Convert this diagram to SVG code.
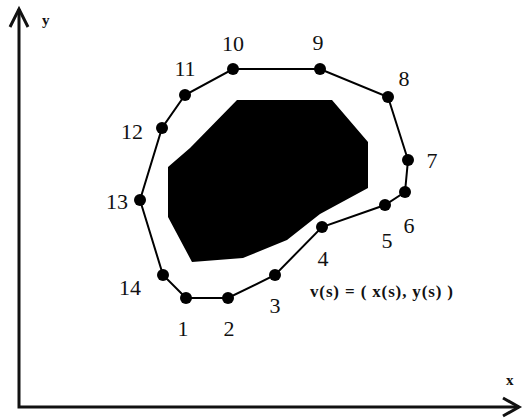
<svg xmlns="http://www.w3.org/2000/svg" width="523" height="418" viewBox="0 0 523 418">
<style>
.lbl{font-family:"Liberation Serif","Times New Roman",serif;font-size:22px;fill:#111;text-anchor:middle}
.ax{font-family:"Liberation Serif","Times New Roman",serif;font-size:15px;fill:#111;font-weight:bold}
.f{font-family:"Liberation Serif","Times New Roman",serif;font-size:17px;fill:#111;font-weight:bold}
.dot{fill:#000}
</style>
<rect width="523" height="418" fill="#fff"/>
<g id="axes" fill="none" stroke="#111" stroke-width="3">
<path d="M19,9 V407 H519"/>
<path d="M10,27 L19,9 L28,27"/>
<path d="M503,398 L519,407 L503,416"/>
</g>
<text class="ax" x="42" y="25">y</text>
<text class="ax" x="506" y="385">x</text>
<g id="obstacle">
<path d="M237,100 L332,100 L368,142 L368,188 L320,214 L287,240 L243,258 L192,262 L168,217 L168,167 L190,148 Z" fill="#000"/>
</g>
<g id="connectors" fill="none" stroke="#000" stroke-width="2">
<path d="M186,298 L228,298 L275,275 L322,227 L385,205 L405,192 L408,160 L388,97 L320,69 L233,69 L185,95 L162,128 L140,200 L163,275 Z"/>
</g>
<g id="n1"><circle class="dot" cx="186" cy="298" r="6"/><text class="lbl" x="183" y="336">1</text></g>
<g id="n2"><circle class="dot" cx="228" cy="298" r="6"/><text class="lbl" x="229" y="336">2</text></g>
<g id="n3"><circle class="dot" cx="275" cy="275" r="6"/><text class="lbl" x="275" y="313">3</text></g>
<g id="n4"><circle class="dot" cx="322" cy="227" r="6"/><text class="lbl" x="323" y="266">4</text></g>
<g id="n5"><circle class="dot" cx="385" cy="205" r="6"/><text class="lbl" x="387" y="248">5</text></g>
<g id="n6"><circle class="dot" cx="405" cy="192" r="6"/><text class="lbl" x="409" y="233">6</text></g>
<g id="n7"><circle class="dot" cx="408" cy="160" r="6"/><text class="lbl" x="432" y="168">7</text></g>
<g id="n8"><circle class="dot" cx="388" cy="97" r="6"/><text class="lbl" x="404" y="86">8</text></g>
<g id="n9"><circle class="dot" cx="320" cy="69" r="6"/><text class="lbl" x="318" y="50">9</text></g>
<g id="n10"><circle class="dot" cx="233" cy="69" r="6"/><text class="lbl" x="233" y="51">10</text></g>
<g id="n11"><circle class="dot" cx="185" cy="95" r="6"/><text class="lbl" x="185" y="76">11</text></g>
<g id="n12"><circle class="dot" cx="162" cy="128" r="6"/><text class="lbl" x="132" y="139">12</text></g>
<g id="n13"><circle class="dot" cx="140" cy="200" r="6"/><text class="lbl" x="117" y="209">13</text></g>
<g id="n14"><circle class="dot" cx="163" cy="275" r="6"/><text class="lbl" x="130" y="295">14</text></g>
<text class="f" x="310" y="297" textLength="143" lengthAdjust="spacing">v(s) = ( x(s), y(s) )</text>
</svg>
